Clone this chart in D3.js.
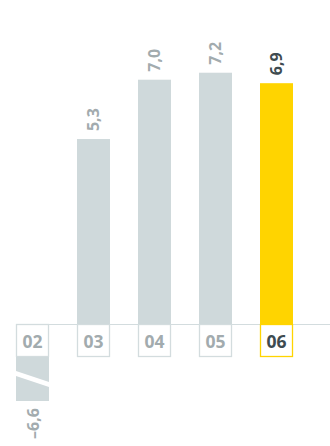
<!DOCTYPE html>
<html><head><meta charset="utf-8">
<script src="https://cdn.jsdelivr.net/npm/d3@7/dist/d3.min.js"></script>
<style>html,body{margin:0;padding:0;background:#fff;}svg{display:block;}</style>
</head><body>
<script>
const years = ["02","03","04","05","06"];
const values = [-6.6, 5.3, 7.0, 7.2, 6.9];
const valueLabels = ["–6,6","5,3","7,0","7,2","6,9"];
const highlight = "06";

const W = 330, H = 446;
const baseY = 324, boxH = 33;
const grey = "#cfd9db", yellow = "#ffd400", textGrey = "#a2abae", textDark = "#3e4b50", lineGrey = "#d3dcde";
const font = "'Open Sans', 'DejaVu Sans', sans-serif";

const svg = d3.select("body").append("svg").attr("width", W).attr("height", H);

const x = d3.scaleBand().domain(years).range([16, 293]).paddingInner(28/61).paddingOuter(0);
const y = d3.scaleLinear().domain([0, 8]).range([baseY, baseY - 8 * 34.9]);
const bw = x.bandwidth();

const data = years.map((d, i) => ({year: d, value: values[i], label: valueLabels[i]}));
const pos = data.filter(d => d.value >= 0);
const neg = data.filter(d => d.value < 0);

svg.selectAll("rect.pos").data(pos).enter().append("rect")
  .attr("x", d => x(d.year)).attr("width", bw)
  .attr("y", d => y(d.value)).attr("height", d => y(0) - y(d.value))
  .attr("fill", d => d.year === highlight ? yellow : grey);

svg.append("line").attr("x1", 16).attr("x2", W).attr("y1", baseY + 0.5).attr("y2", baseY + 0.5)
  .attr("stroke", lineGrey).attr("stroke-width", 1);

const boxes = svg.selectAll("g.box").data(data).enter().append("g");
boxes.append("rect")
  .attr("x", d => x(d.year) + 0.5).attr("y", baseY + 0.5)
  .attr("width", bw - 1).attr("height", boxH - 1)
  .attr("fill", "#fff")
  .attr("stroke", d => d.year === highlight ? yellow : lineGrey).attr("stroke-width", 1.3);
boxes.append("text")
  .attr("x", d => x(d.year) + bw / 2).attr("y", baseY + 24)
  .attr("text-anchor", "middle")
  .attr("font-family", font).attr("font-weight", 700).attr("font-size", 17.5)
  .attr("fill", d => d.year === highlight ? textDark : textGrey)
  .text(d => d.year);

svg.selectAll("text.val").data(pos).enter().append("text")
  .attr("transform", d => `translate(${x(d.year) + bw / 2 + 5.5},${y(d.value) - 8}) rotate(-90)`)
  .attr("text-anchor", "start")
  .attr("font-family", font).attr("font-weight", 700).attr("font-size", 16)
  .attr("fill", d => d.year === highlight ? textDark : textGrey)
  .text(d => d.label);

neg.forEach(d => {
  const x0 = x(d.year), x1 = x0 + bw;
  const top = baseY + boxH, bottom = top + 44;
  svg.append("path")
    .attr("d", `M${x0},${top}H${x1}V${top + 25}L${x0},${top + 14}Z`)
    .attr("fill", grey);
  svg.append("path")
    .attr("d", `M${x0},${top + 19}L${x1},${top + 30}V${bottom}H${x0}Z`)
    .attr("fill", grey);
  svg.append("text")
    .attr("transform", `translate(${x0 + bw / 2 + 6},${bottom + 38}) rotate(-90)`)
    .attr("text-anchor", "start")
    .attr("font-family", font).attr("font-weight", 700).attr("font-size", 16)
    .attr("fill", textGrey)
    .text(d.label);
});
</script>
</body></html>
